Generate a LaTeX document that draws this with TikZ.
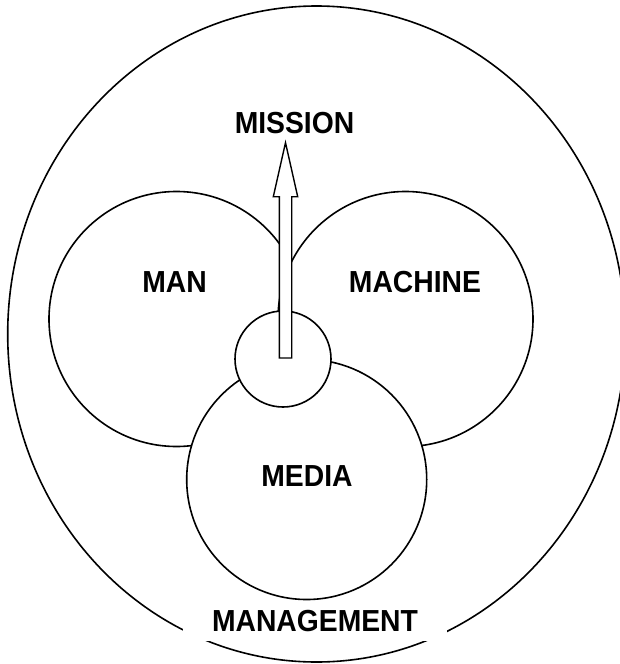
\documentclass[tikz,border=0pt]{standalone}
\usepackage{fontspec}
\setmainfont{Liberation Sans}
\newcommand{\stretchtxt}[1]{\scalebox{1}[1.075]{#1}}
\begin{document}
\begin{tikzpicture}[x=1pt,y=-1pt]
\tikzset{
  shapeline/.style={draw=black, fill=white, line width=1.6pt},
  lbl/.style={font=\fontsize{28.3}{30}\selectfont\bfseries, inner sep=0pt, text=black},
}
\useasboundingbox (0,0) rectangle (619,664);
% outer ellipse (MANAGEMENT)
\draw[shapeline] (316.5,334) ellipse [x radius=308.8, y radius=328];
% MAN and MACHINE
\draw[shapeline] (176.5,319) circle [radius=127.5];
\draw[shapeline] (405.5,319) circle [radius=127.5];
% MEDIA
\draw[shapeline] (306.7,479.5) circle [radius=120];
% small centre circle
\draw[shapeline] (283,359) circle [radius=48];
% hollow arrow
\draw[shapeline, line width=1.4pt] (279.3,358) -- (279.3,196.7) -- (273.3,196.7) -- (285.5,142.7)
  -- (297.7,196.7) -- (291.7,196.7) -- (291.7,358) -- cycle;
% white box behind MANAGEMENT
\fill[white] (183,604) rectangle (447,641);
% labels
\node[lbl] (mission) at (294.5,122.7) {\stretchtxt{MISSION}};
\node[lbl] (man) at (174.5,282.5) {\stretchtxt{MAN}};
\node[lbl] (machine) at (415,282.5) {\stretchtxt{MACHINE}};
\node[lbl] (media) at (307,476) {\stretchtxt{MEDIA}};
\node[lbl] (management) at (315,621.5) {\stretchtxt{MANAGEMENT}};
\end{tikzpicture}
\end{document}
